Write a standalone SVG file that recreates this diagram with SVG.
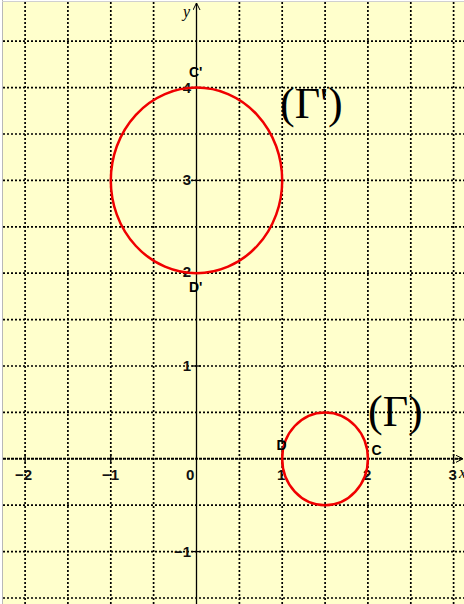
<svg xmlns="http://www.w3.org/2000/svg" width="464" height="604" viewBox="0 0 464 604">
<defs>
<style>
.grid line{stroke:#000;stroke-width:1.7;stroke-dasharray:2 2;}
.curve{fill:none;stroke:#f00000;stroke-width:2.5;}
.num{font-family:"Liberation Sans",Arial,sans-serif;font-size:15px;font-weight:bold;fill:#111;}
.pt{font-family:"Liberation Sans",Arial,sans-serif;font-size:14px;font-weight:bold;fill:#000;}
.big{font-family:"Liberation Serif","Times New Roman",serif;font-size:44px;fill:#000;}
.ax{font-family:"Liberation Serif","Times New Roman",serif;font-style:italic;font-size:16px;fill:#000;}
.tick{stroke:#000;stroke-width:1.3;}
</style>
<marker id="arr" viewBox="0 0 8 8" refX="7" refY="4" markerWidth="8" markerHeight="8" markerUnits="userSpaceOnUse" orient="auto">
<path d="M0,0.5 L7,4 L0,7.5" fill="none" stroke="#000" stroke-width="1"/>
</marker>
</defs>
<rect x="0" y="0" width="464" height="604" fill="#ffffff"/>
<rect x="2" y="1" width="462" height="603" fill="#ffffcc"/>
<line x1="2.5" y1="0" x2="2.5" y2="604" stroke="#b8b8b8" stroke-width="1"/>
<line x1="2" y1="1.5" x2="464" y2="1.5" stroke="#d0d0d0" stroke-width="1"/>

<g id="grid" class="grid">
<line x1="25.1" y1="2" x2="25.1" y2="604"/>
<line x1="67.9" y1="2" x2="67.9" y2="604"/>
<line x1="110.8" y1="2" x2="110.8" y2="604"/>
<line x1="153.6" y1="2" x2="153.6" y2="604"/>
<line x1="239.4" y1="2" x2="239.4" y2="604"/>
<line x1="282.2" y1="2" x2="282.2" y2="604"/>
<line x1="325.1" y1="2" x2="325.1" y2="604"/>
<line x1="367.9" y1="2" x2="367.9" y2="604"/>
<line x1="410.8" y1="2" x2="410.8" y2="604"/>
<line x1="453.6" y1="2" x2="453.6" y2="604"/>
<line x1="3" y1="41.2" x2="464" y2="41.2"/>
<line x1="3" y1="87.6" x2="464" y2="87.6"/>
<line x1="3" y1="134" x2="464" y2="134"/>
<line x1="3" y1="180.4" x2="464" y2="180.4"/>
<line x1="3" y1="226.8" x2="464" y2="226.8"/>
<line x1="3" y1="273.2" x2="464" y2="273.2"/>
<line x1="3" y1="319.6" x2="464" y2="319.6"/>
<line x1="3" y1="366" x2="464" y2="366"/>
<line x1="3" y1="412.4" x2="464" y2="412.4"/>
<line x1="3" y1="505.2" x2="464" y2="505.2"/>
<line x1="3" y1="551.6" x2="464" y2="551.6"/>
<line x1="3" y1="598" x2="464" y2="598"/>
</g>

<g id="axes">
<line x1="3" y1="458.8" x2="462" y2="458.8" stroke="#000" stroke-width="2" stroke-dasharray="3 1"/>
<line x1="455" y1="458.8" x2="463" y2="458.8" stroke="#000" stroke-width="1" marker-end="url(#arr)"/>
<line x1="196.5" y1="604" x2="196.5" y2="3" stroke="#000" stroke-width="1.3" marker-end="url(#arr)"/>
<g class="tick">
<line x1="25.1" y1="454" x2="25.1" y2="463"/>
<line x1="110.8" y1="454" x2="110.8" y2="463"/>
<line x1="282.2" y1="452" x2="282.2" y2="466"/>
<line x1="367.9" y1="454" x2="367.9" y2="463"/>
<line x1="453.6" y1="454" x2="453.6" y2="463"/>
<line x1="192" y1="87.6" x2="201" y2="87.6"/>
<line x1="192" y1="180.4" x2="201" y2="180.4"/>
<line x1="192" y1="273.2" x2="201" y2="273.2"/>
<line x1="192" y1="366" x2="201" y2="366"/>
<line x1="192" y1="551.6" x2="201" y2="551.6"/>
</g>
<text class="ax" x="183" y="17">y</text>
<text class="ax" x="459" y="478">x</text>
</g>

<g id="labels">
<text class="num" x="15" y="480">−2</text>
<text class="num" x="102" y="480">−1</text>
<text class="num" x="186" y="480">0</text>
<text class="num" x="277" y="480">1</text>
<text class="num" x="363" y="480">2</text>
<text class="num" x="448.5" y="480">3</text>
<text class="num" x="191" y="93" text-anchor="end">4</text>
<text class="num" x="191" y="185" text-anchor="end">3</text>
<text class="num" x="191" y="277" text-anchor="end">2</text>
<text class="num" x="191" y="371" text-anchor="end">1</text>
<text class="num" x="191" y="557" text-anchor="end">−1</text>
</g>

<g id="gamma-prime">
<ellipse class="curve" cx="196.5" cy="180.4" rx="85.7" ry="92.8"/>
<text class="pt" x="189" y="77">C'</text>
<text class="pt" x="189" y="292">D'</text>
<text class="big" x="280" y="118">(Γ')</text>
</g>

<g id="gamma">
<ellipse class="curve" cx="325.05" cy="458.8" rx="42.85" ry="46.4"/>
<text class="pt" x="276.5" y="450">D</text>
<text class="pt" x="371.5" y="455">C</text>
<text class="big" x="368" y="426">(Γ)</text>
</g>
</svg>
